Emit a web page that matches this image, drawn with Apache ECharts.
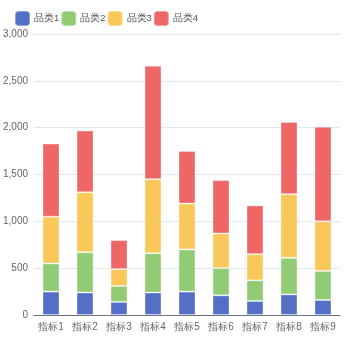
<!DOCTYPE html>
<html>
<head>
<meta charset="utf-8">
<script src="https://cdn.jsdelivr.net/npm/echarts@6/dist/echarts.min.js"></script>
<style>
  html, body { margin: 0; padding: 0; background: #fff; }
  #chart { width: 350px; height: 350px; }
</style>
</head>
<body>
<div id="chart"></div>
<script>
// Categories along the x axis
const categories = ['指标1', '指标2', '指标3', '指标4', '指标5', '指标6', '指标7', '指标8', '指标9'];

// Stacked series values
const seriesNames = ['品类1', '品类2', '品类3', '品类4'];
const values1 = [250, 240, 140, 240, 250, 210, 150, 220, 160];
const values2 = [300, 430, 170, 420, 450, 290, 220, 390, 310];
const values3 = [500, 640, 180, 790, 490, 370, 280, 680, 530];
const values4 = [780, 660, 310, 1210, 560, 570, 520, 770, 1010];

const colors = ['#5470c6', '#91cc75', '#fac858', '#ee6666'];
const allValues = [values1, values2, values3, values4];

const chart = echarts.init(document.getElementById('chart'), null, { renderer: 'canvas' });

chart.setOption({
  animation: false,
  color: colors,
  legend: {
    left: 9,
    top: 5,
    itemWidth: 15,
    itemHeight: 15,
    itemGap: 1,
    icon: 'roundRect',
    textStyle: { fontSize: 9.5, color: '#555', padding: [0, 0, 0, -1] },
    data: seriesNames
  },
  grid: { left: 32, right: 10, top: 34, bottom: 35 },
  xAxis: {
    type: 'category',
    data: categories,
    axisLabel: { fontSize: 10, color: '#666', margin: 7, interval: 0 },
    axisLine: { lineStyle: { color: '#6E7079' } }
  },
  yAxis: {
    type: 'value',
    min: 0,
    max: 3000,
    interval: 500,
    axisLabel: { fontSize: 10, color: '#666', margin: 6 },
    splitLine: { lineStyle: { color: '#E0E6F1' } }
  },
  series: seriesNames.map((name, i) => ({
    name,
    type: 'bar',
    stack: 'total',
    barWidth: '50%',
    data: allValues[i],
    itemStyle: { borderColor: 'rgba(255,255,255,0.35)', borderWidth: 1 }
  }))
});
</script>
</body>
</html>
